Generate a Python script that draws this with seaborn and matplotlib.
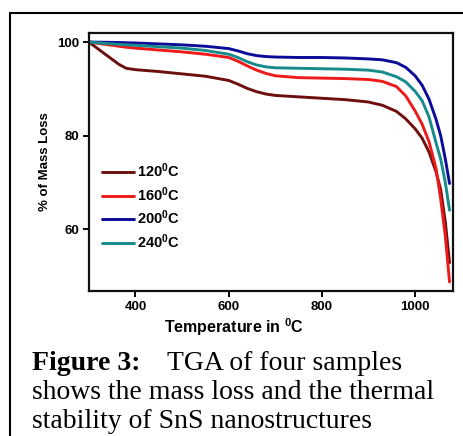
import seaborn as sns
import pandas as pd
import matplotlib.pyplot as plt
from matplotlib.lines import Line2D

temperature = [300, 335, 365, 380, 400, 450, 500, 550, 600, 620, 640, 660, 680, 700,
               750, 800, 850, 900, 930, 960, 980, 1000, 1015, 1030, 1045, 1055, 1065, 1074]
mass_120 = [100, 97.4, 95.2, 94.4, 94.1, 93.7, 93.2, 92.7, 91.8, 91.0, 90.1, 89.4, 88.9, 88.6,
            88.3, 88.0, 87.7, 87.2, 86.5, 85.2, 83.6, 81.5, 79.5, 76.5, 72.3, 68.5, 61.5, 52.9]
mass_160 = [100, 99.5, 99.1, 98.9, 98.7, 98.3, 97.9, 97.4, 96.7, 95.9, 94.9, 94.0, 93.3, 92.8,
            92.4, 92.3, 92.2, 92.0, 91.6, 90.5, 88.5, 85.3, 82.5, 78.7, 73.0, 66.5, 58.5, 48.8]
mass_200 = [100, 99.95, 99.9, 99.85, 99.8, 99.6, 99.4, 99.1, 98.6, 98.1, 97.5, 97.1, 96.9, 96.8,
            96.7, 96.7, 96.6, 96.4, 96.2, 95.6, 94.6, 92.8, 90.8, 87.8, 83.5, 80.0, 75.0, 69.8]
mass_240 = [100, 99.7, 99.5, 99.4, 99.3, 99.0, 98.7, 98.2, 97.4, 96.7, 95.8, 95.1, 94.7, 94.5,
            94.4, 94.3, 94.2, 94.0, 93.6, 92.6, 91.5, 89.5, 87.5, 84.0, 78.5, 75.0, 70.0, 64.1]

labels = ["120$^{0}$C", "160$^{0}$C", "200$^{0}$C", "240$^{0}$C"]
colors = ["#6e0f0f", "#ee1a1a", "#0c0c98", "#178b8b"]

rows = []
for lab, vals in zip(labels, [mass_120, mass_160, mass_200, mass_240]):
    for t, m in zip(temperature, vals):
        rows.append({"Temperature": t, "Mass": m, "Sample": lab})
df = pd.DataFrame(rows)

sns.set_style("ticks")
plt.rcParams["font.family"] = ["Liberation Sans", "DejaVu Sans"]
plt.rcParams["font.weight"] = "bold"
plt.rcParams["text.color"] = "black"
plt.rcParams["axes.labelcolor"] = "black"
plt.rcParams["xtick.color"] = "black"
plt.rcParams["ytick.color"] = "black"
plt.rcParams["mathtext.fontset"] = "custom"
plt.rcParams["mathtext.rm"] = "Liberation Sans:bold"
plt.rcParams["mathtext.bf"] = "Liberation Sans:bold"
plt.rcParams["mathtext.it"] = "Liberation Sans:bold"
plt.rcParams["mathtext.default"] = "bf"

fig = plt.figure(figsize=(4.63, 4.36), dpi=100)
ax = fig.add_axes([0.192, 0.333, 0.786, 0.591])

sns.lineplot(data=df, x="Temperature", y="Mass", hue="Sample", palette=colors,
             linewidth=2.1, ax=ax)

ax.set_xlim(300, 1081)
ax.set_ylim(46.9, 101.9)
ax.set_xticks([400, 600, 800, 1000])
ax.set_yticks([60, 80, 100])
for s in ax.spines.values():
    s.set_linewidth(1.6)
    s.set_color("#111111")
ax.tick_params(width=1.4, length=4, labelsize=9.5, pad=3)
for lbl in ax.get_xticklabels() + ax.get_yticklabels():
    lbl.set_fontweight("bold")

ax.set_xlabel("Temperature in $^{0}$C", fontsize=11.5, fontweight="bold")
ax.xaxis.set_label_coords(0.40, -0.1)
ax.set_ylabel("% of Mass Loss", fontsize=9.5, fontweight="bold", labelpad=4)

ax.legend(loc="upper left", bbox_to_anchor=(0.02, 0.525), frameon=False,
          fontsize=10.5, handlelength=2.2, handletextpad=0.2, labelspacing=0.35,
          borderaxespad=0)

# outer frame of the figure panel
fig.add_artist(Line2D([10 / 463, 1], [1 - 13 / 436, 1 - 13 / 436], color="black", lw=1.5))
fig.add_artist(Line2D([10 / 463, 10 / 463], [0, 1 - 13 / 436], color="black", lw=1.5))

fig.text(32 / 463, 1 - 363 / 436, "Figure 3:", family="Liberation Serif",
         fontweight="bold", fontsize=20, va="center")
fig.text(167 / 463, 1 - 363 / 436, "TGA of four samples", family="Liberation Serif",
         fontweight="normal", fontsize=20, va="center")
fig.text(32 / 463, 1 - 392 / 436, "shows the mass loss and the thermal",
         family="Liberation Serif", fontweight="normal", fontsize=20, va="center")
fig.text(32 / 463, 1 - 421 / 436, "stability of SnS nanostructures",
         family="Liberation Serif", fontweight="normal", fontsize=20, va="center")

fig.savefig("out.png", dpi=100)
